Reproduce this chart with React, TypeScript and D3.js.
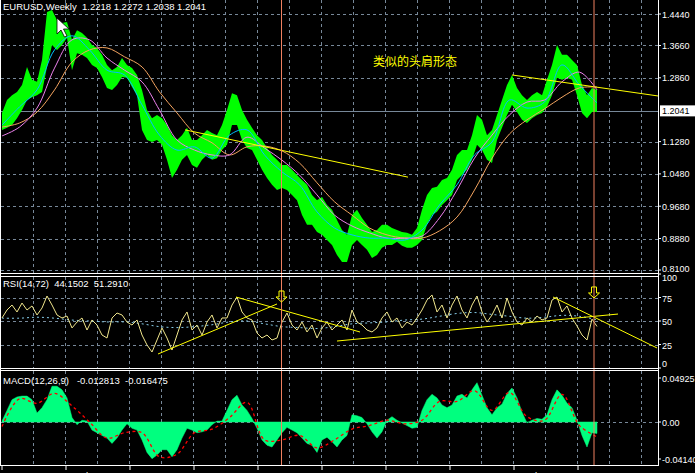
import React from 'react';
import * as d3 from 'd3';

// weekly EURUSD, one sample per 5 bars
const priceHigh = [
  1.199, 1.231, 1.243, 1.251, 1.268, 1.313, 1.281, 1.276, 1.330, 1.449,
  1.454, 1.429, 1.422, 1.424, 1.380, 1.404, 1.397, 1.385, 1.367, 1.360,
  1.343, 1.318, 1.305, 1.313, 1.335, 1.318, 1.310, 1.293, 1.256, 1.206,
  1.186, 1.194, 1.186, 1.169, 1.144, 1.132, 1.144, 1.162, 1.132, 1.132,
  1.144, 1.157, 1.149, 1.144, 1.169, 1.206, 1.248, 1.243, 1.206, 1.182,
  1.162, 1.144, 1.132, 1.112, 1.095, 1.083, 1.070, 1.070, 1.058, 1.045,
  1.033, 1.021, 0.996, 0.983, 0.991, 0.971, 0.959, 0.934, 0.909, 0.897,
  0.946, 0.959, 0.939, 0.922, 0.904, 0.909, 0.922, 0.922, 0.914, 0.909,
  0.904, 0.902, 0.897, 0.914, 0.959, 0.996, 1.013, 1.016, 1.033, 1.038,
  1.058, 1.095, 1.107, 1.107, 1.144, 1.194, 1.182, 1.144, 1.157, 1.194,
  1.231, 1.268, 1.293, 1.261, 1.243, 1.231, 1.243, 1.251, 1.243, 1.281,
  1.318, 1.367, 1.343, 1.343, 1.330, 1.318, 1.268, 1.243, 1.261, 1.256,
];
const priceLow = [
  1.157, 1.162, 1.169, 1.186, 1.206, 1.231, 1.238, 1.243, 1.251, 1.313,
  1.367, 1.355, 1.367, 1.385, 1.305, 1.347, 1.343, 1.335, 1.318, 1.310,
  1.288, 1.261, 1.256, 1.268, 1.288, 1.286, 1.263, 1.243, 1.157, 1.132,
  1.127, 1.132, 1.120, 1.083, 1.038, 1.058, 1.083, 1.095, 1.070, 1.063,
  1.083, 1.095, 1.083, 1.087, 1.107, 1.120, 1.169, 1.169, 1.132, 1.112,
  1.107, 1.083, 1.058, 1.038, 1.021, 1.008, 1.013, 1.008, 0.996, 0.983,
  0.946, 0.922, 0.922, 0.904, 0.897, 0.884, 0.872, 0.847, 0.830, 0.830,
  0.872, 0.884, 0.872, 0.860, 0.840, 0.847, 0.865, 0.872, 0.872, 0.880,
  0.870, 0.865, 0.865, 0.872, 0.884, 0.922, 0.946, 0.954, 0.971, 0.983,
  0.996, 1.033, 1.045, 1.058, 1.083, 1.120, 1.107, 1.083, 1.075, 1.132,
  1.162, 1.194, 1.219, 1.201, 1.182, 1.174, 1.186, 1.194, 1.199, 1.214,
  1.243, 1.286, 1.281, 1.286, 1.281, 1.243, 1.199, 1.186, 1.201, 1.201,
];

// moving averages, coarser samples spread over the same span
const maFast = [
  1.169, 1.214, 1.256, 1.355, 1.390, 1.355, 1.305, 1.293, 1.219, 1.144,
  1.107, 1.115, 1.087, 1.144, 1.157, 1.095, 1.053, 1.021, 0.954, 0.914,
  0.897, 0.889, 0.889, 0.884, 0.909, 0.971, 1.021, 1.095, 1.127, 1.231,
  1.211, 1.226, 1.318, 1.268, 1.224,
];
const maMid = [
  1.142, 1.164, 1.211, 1.310, 1.380, 1.380, 1.335, 1.305, 1.276, 1.206,
  1.132, 1.107, 1.095, 1.095, 1.139, 1.112, 1.082, 1.045, 0.996, 0.946,
  0.919, 0.902, 0.889, 0.889, 0.894, 0.939, 1.008, 1.087, 1.144, 1.194,
  1.226, 1.231, 1.276, 1.300, 1.256,
];
const maSlow = [
  1.164, 1.174, 1.201, 1.256, 1.325, 1.355, 1.360, 1.338, 1.313, 1.251,
  1.199, 1.149, 1.125, 1.095, 1.115, 1.117, 1.105, 1.075, 1.026, 0.979,
  0.946, 0.914, 0.897, 0.889, 0.889, 0.907, 0.941, 1.008, 1.087, 1.147,
  1.182, 1.209, 1.238, 1.261, 1.263,
];

const rsiValues = [
  53.2, 61.7, 67.0, 59.6, 69.1, 61.7, 66.0, 56.4, 63.8, 76.6,
  67.0, 56.4, 53.2, 55.3, 42.6, 48.9, 53.2, 40.4, 51.1, 45.7,
  35.1, 31.9, 53.2, 58.5, 56.4, 48.9, 45.7, 51.1, 35.1, 24.5,
  17.0, 29.8, 42.6, 31.9, 19.1, 35.1, 51.1, 59.6, 40.4, 45.7,
  35.1, 48.9, 56.4, 42.6, 53.2, 53.2, 67.0, 75.5, 59.6, 53.2,
  51.1, 37.2, 31.9, 35.1, 29.8, 31.9, 48.9, 58.5, 45.7, 40.4,
  48.9, 38.3, 45.7, 31.9, 42.6, 48.9, 40.4, 45.7, 51.1, 40.4,
  61.7, 48.9, 45.7, 40.4, 38.3, 42.6, 53.2, 59.6, 48.9, 53.2,
  42.6, 48.9, 45.7, 53.2, 61.7, 72.3, 77.7, 59.6, 67.0, 53.2,
  67.0, 76.6, 61.7, 53.2, 67.0, 76.6, 59.6, 48.9, 56.4, 67.0,
  53.2, 74.5, 59.6, 48.9, 45.7, 53.2, 48.9, 55.3, 51.1, 53.2,
  72.3, 75.5, 59.6, 66.0, 53.2, 44.7, 35.1, 29.8, 52.0, 44.2,
];
const rsiSignal = [
  53, 53, 54, 53, 51, 50, 49, 49, 47, 44,
  43, 44, 46, 49, 50, 47, 44, 43, 42, 44,
  47, 48, 49, 51, 52, 55, 58, 59, 57, 55,
  53, 54, 56, 55, 51.3,
];

const macdHist = [
  0.001, 0.013, 0.025, 0.028, 0.029, 0.029, 0.025, 0.010, 0.016, 0.025,
  0.040, 0.040, 0.036, 0.027, 0.005, -0.003, 0.002, 0.001, -0.009, -0.012,
  -0.015, -0.018, -0.024, -0.018, -0.009, -0.002, -0.007, -0.009, -0.020, -0.034,
  -0.041, -0.037, -0.031, -0.031, -0.039, -0.031, -0.018, -0.007, -0.009, -0.012,
  -0.011, -0.009, -0.003, 0.001, 0.001, 0.013, 0.025, 0.030, 0.019, 0.013,
  0.004, -0.007, -0.020, -0.026, -0.028, -0.020, -0.012, -0.006, -0.009, -0.012,
  -0.018, -0.024, -0.026, -0.034, -0.020, -0.017, -0.022, -0.028, -0.020, -0.015,
  0.008, 0.007, 0.005, -0.002, -0.011, -0.018, -0.011, 0.002, 0.006, 0.002,
  -0.001, -0.004, -0.007, -0.006, 0.013, 0.025, 0.031, 0.027, 0.019, 0.016,
  0.019, 0.029, 0.031, 0.027, 0.036, 0.044, 0.030, 0.016, 0.008, 0.016,
  0.020, 0.032, 0.038, 0.027, 0.011, -0.001, 0.002, 0.004, 0.003, 0.008,
  0.025, 0.036, 0.030, 0.021, 0.016, 0.002, -0.015, -0.028, -0.012, -0.0128,
];
const macdSignal = [
  -0.005, 0.026, 0.021, 0.032, 0.018, 0.000, -0.018, -0.012, -0.012, -0.039,
  -0.036, -0.012, -0.008, 0.005, 0.022, -0.020, -0.020, -0.015, -0.029, -0.020,
  -0.008, -0.004, 0.002, -0.002, 0.002, 0.023, 0.023, 0.035, 0.013, 0.033,
  0.006, 0.002, 0.031, -0.004, -0.0165,
];

const priceTicks = [1.444, 1.366, 1.286, 1.128, 1.048, 0.968, 0.888, 0.81];
const priceTickLabels = ['1.4440', '1.3660', '1.2860', '1.1280', '1.0480', '0.9680', '0.8880', '0.8100'];
const lastPrice = 1.2041;
const rsiTicks = [100, 75, 50, 25, 0];
const rsiGrid = [75, 50, 25];
const macdTicks = [0.04925, 0, -0.0414];
const macdTickLabels = ['0.04925', '0.00', '-0.04140'];
const dateLabels = ['10 Apr 1994', '2 Jul 1995', '22 Sep 1996', '14 Dec 1997', '7 Mar 1999',
  '28 May 2000', '19 Aug 2001', '10 Nov 2002', '1 Feb 2004', '24 Apr 2005'];
const weeksPerLabel = 64;
const weeksPerSample = 5;

// trend lines: [sample index, value, sample index, value]
const priceTrends = [[36.6, 1.157, 81.2, 1.04], [102, 1.293, 131.2, 1.241]];
const rsiTrends = [[31.2, 14.9, 55, 68.1], [46.8, 75.5, 71.6, 38.3], [67, 28.7, 123.2, 57.4], [110.2, 75.5, 131, 21.3]];
const markerIdx = [55.9, 118.4];
const arrowTips = [70.2, 74.5];

const mainTitle = 'EURUSD,Weekly  1.2218 1.2272 1.2038 1.2041';
const rsiTitle = 'RSI(14,72)  44.1502  51.2910';
const macdTitle = 'MACD(12,26,9)   -0.012813  -0.016475';
const note = '类似的头肩形态';

const W = 695;
const H = 473;
const L = 1;
const R = 658;
const main = { top: 0, bottom: 273 };
const rsiP = { top: 277, bottom: 368 };
const macdP = { top: 371, bottom: 465 };
const gridColor = '#778899';
const font = 'Liberation Sans, Arial, sans-serif';

export default function App() {
  const n = priceHigh.length;
  const x = d3.scaleLinear().domain([0, n - 1]).range([2, 597]);
  const step = (n - 1) / (maFast.length - 1);
  const xc = (i: number) => x(i * step);
  const yP = d3.scaleLinear().domain([0.81, 1.444]).range([270, 14]);
  const yR = d3.scaleLinear().domain([0, 100]).range([368, 274]);
  const yM = d3.scaleLinear().domain([-0.0414, 0.04925]).range([459, 378]);

  const band = d3.area<number>()
    .x((_, i) => x(i))
    .y0((_, i) => yP(priceLow[i]))
    .y1(d => yP(d));
  const maLine = d3.line<number>().x((_, i) => xc(i)).y(d => yP(d)).curve(d3.curveCatmullRom);
  const rsiLine = d3.line<number>().x((_, i) => x(i)).y(d => yR(d));
  const rsiSig = d3.line<number>().x((_, i) => xc(i)).y(d => yR(d)).curve(d3.curveCatmullRom);
  const histArea = d3.area<number>().x((_, i) => x(i)).y0(yM(0)).y1(d => yM(d));
  const sigLine = d3.line<number>().x((_, i) => xc(i)).y(d => yM(d)).curve(d3.curveCatmullRom);

  const vGrid = d3.range(33, R, 32);
  const clampLbl = (y: number, p: { top: number; bottom: number }) =>
    Math.min(Math.max(y + 3.5, p.top + 4), p.bottom - 1);

  const vlines = (p: { top: number; bottom: number }) =>
    vGrid.map(g => (
      <line key={g} x1={g + 0.5} x2={g + 0.5} y1={p.top} y2={p.bottom}
        stroke={gridColor} strokeDasharray="3,3" />
    ));

  const arrow = (cx: number, tip: number) =>
    `M${cx - 2.5},${tip - 11}H${cx + 2.5}V${tip - 5}H${cx + 5.5}L${cx},${tip}L${cx - 5.5},${tip - 5}H${cx - 2.5}Z`;

  return (
    <svg width={W} height={H} style={{ position: 'absolute', left: 0, top: 0, background: '#000' }}
      fontFamily={font} fontSize={9.5}>
      <defs>
        <clipPath id="cMain"><rect x={L} y={main.top} width={R - L} height={main.bottom - main.top} /></clipPath>
        <clipPath id="cRsi"><rect x={L} y={rsiP.top} width={R - L} height={rsiP.bottom - rsiP.top} /></clipPath>
        <clipPath id="cMacd"><rect x={L} y={macdP.top} width={R - L} height={macdP.bottom - macdP.top} /></clipPath>
      </defs>
      <rect width={W} height={H} fill="#000" />

      {/* main window */}
      {vlines(main)}
      {priceTicks.map(t => (
        <line key={t} x1={L} x2={R} y1={Math.round(yP(t)) + 0.5} y2={Math.round(yP(t)) + 0.5}
          stroke={gridColor} strokeDasharray="3,3" />
      ))}
      <line x1={L} x2={R} y1={Math.round(yP(lastPrice)) + 0.5} y2={Math.round(yP(lastPrice)) + 0.5} stroke={gridColor} />
      <g clipPath="url(#cMain)">
        <path d={band(priceHigh) ?? ''} fill="#00FF00" />
        <path d={maLine(maSlow) ?? ''} fill="none" stroke="#F4A460" strokeWidth={1} />
        <path d={maLine(maMid) ?? ''} fill="none" stroke="#EE82EE" strokeWidth={1} />
        <path d={maLine(maFast) ?? ''} fill="none" stroke="#00BFFF" strokeWidth={1} />
        {priceTrends.map((t, i) => (
          <line key={i} x1={x(t[0])} y1={yP(t[1])} x2={x(t[2])} y2={yP(t[3])} stroke="#FFFF00" strokeWidth={1} />
        ))}
      </g>
      <text x={3} y={10} fill="#fff" style={{ whiteSpace: 'pre' }}>{mainTitle}</text>
      <text x={373} y={66} fill="#FFFF00" fontSize={12} fontFamily="Noto Sans CJK SC">{note}</text>
      <path d="M57,18V34L61,30L64.5,37L67,36L63.5,29H69Z" fill="#fff" stroke="#000" strokeWidth={0.8} />
      {priceTicks.map((t, i) => (
        <g key={t}>
          <line x1={R} x2={R + 3} y1={yP(t)} y2={yP(t)} stroke="#fff" />
          <text x={R + 4} y={clampLbl(yP(t), main)} fill="#fff" fontSize={9}>{priceTickLabels[i]}</text>
        </g>
      ))}
      <rect x={R + 2} y={yP(lastPrice) - 5.5} width={W - R - 2} height={11} fill="#fff" />
      <text x={R + 4} y={yP(lastPrice) + 3.5} fill="#000" fontSize={9}>{lastPrice.toFixed(4)}</text>

      {/* RSI window */}
      {vlines(rsiP)}
      {rsiGrid.map(t => (
        <line key={t} x1={L} x2={R} y1={Math.round(yR(t)) + 0.5} y2={Math.round(yR(t)) + 0.5}
          stroke={gridColor} strokeDasharray="3,3" />
      ))}
      <g clipPath="url(#cRsi)">
        <path d={rsiSig(rsiSignal) ?? ''} fill="none" stroke="#87CEEB" strokeDasharray="2,3" />
        <path d={rsiLine(rsiValues) ?? ''} fill="none" stroke="#F0E68C" strokeWidth={1} />
        {rsiTrends.map((t, i) => (
          <line key={i} x1={x(t[0])} y1={yR(t[1])} x2={x(t[2])} y2={yR(t[3])} stroke="#FFFF00" strokeWidth={1} />
        ))}
      </g>
      <text x={3} y={287} fill="#fff" style={{ whiteSpace: 'pre' }}>{rsiTitle}</text>
      {rsiTicks.map(t => (
        <g key={t}>
          <line x1={R} x2={R + 3} y1={yR(t)} y2={yR(t)} stroke="#fff" />
          <text x={R + 4} y={Math.min(Math.max(yR(t) + 4, 281), 367)} fill="#fff" fontSize={9}>{t}</text>
        </g>
      ))}

      {/* MACD window */}
      {vlines(macdP)}
      <line x1={L} x2={R} y1={Math.round(yM(0)) + 0.5} y2={Math.round(yM(0)) + 0.5} stroke={gridColor} strokeDasharray="3,3" />
      <g clipPath="url(#cMacd)">
        <path d={histArea(macdHist) ?? ''} fill="#00FF7F" stroke="#00FF7F" strokeWidth={0.5} />
        <path d={sigLine(macdSignal) ?? ''} fill="none" stroke="#FF0000" strokeWidth={1.3} strokeDasharray="3,3" />
      </g>
      <text x={3} y={384} fill="#fff" style={{ whiteSpace: 'pre' }}>{macdTitle}</text>
      {macdTicks.map((t, i) => (
        <g key={t}>
          <line x1={R} x2={R + 3} y1={yM(t)} y2={yM(t)} stroke="#fff" />
          <text x={R + 4} y={yM(t) + 3.5} fill="#fff" fontSize={9}>{macdTickLabels[i]}</text>
        </g>
      ))}

      {/* vertical markers and arrows */}
      {markerIdx.map(m => (
        <line key={m} x1={x(m)} x2={x(m)} y1={0} y2={macdP.bottom} stroke="#F08060" strokeWidth={1} />
      ))}
      {markerIdx.map((m, i) => (
        <path key={m} d={arrow(x(m), yR(arrowTips[i]))} fill="none" stroke="#FFFF00" strokeWidth={1} />
      ))}

      {/* frames */}
      <line x1={0.5} x2={0.5} y1={0} y2={macdP.bottom} stroke="#fff" />
      <line x1={R + 0.5} x2={R + 0.5} y1={0} y2={macdP.bottom + 1} stroke="#fff" />
      {[main.bottom + 0.5, rsiP.top - 0.5, rsiP.bottom + 0.5, macdP.top - 0.5, macdP.bottom + 0.5].map(y => (
        <line key={y} x1={0} x2={R + 1} y1={y} y2={y} stroke="#fff" />
      ))}

      {/* time axis */}
      {dateLabels.map((d, i) => {
        const px = x((i * weeksPerLabel) / weeksPerSample);
        return (
          <g key={d}>
            <line x1={px} x2={px} y1={macdP.bottom} y2={macdP.bottom + 5} stroke="#fff" />
            <text x={px + 2} y={479} fill="#fff">{d}</text>
          </g>
        );
      })}
    </svg>
  );
}
